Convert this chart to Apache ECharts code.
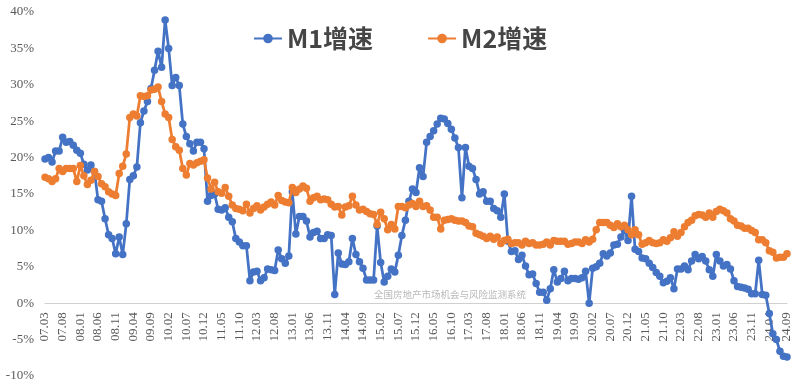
<!DOCTYPE html>
<html>
<head>
<meta charset="utf-8">
<script src="https://cdn.jsdelivr.net/npm/echarts@6/dist/echarts.min.js"></script>
<style>
html,body{margin:0;padding:0;background:#fff;}
#chart{width:807px;height:384px;}
</style>
</head>
<body>
<div id="chart"></div>
<script>
// Monthly series from 2007.03 to 2024.09
const startYear = 2007, startMonth = 3, monthCount = 211;
const categories = [];
for (let i = 0; i < monthCount; i++) {
  const m0 = startMonth - 1 + i;
  const y = startYear + Math.floor(m0 / 12);
  const m = (m0 % 12) + 1;
  categories.push(String(y % 100).padStart(2, '0') + '.' + String(m).padStart(2, '0'));
}

const m1Growth = [
  19.8, 20.0, 19.4, 20.9, 20.9, 22.8, 22.1, 22.2, 21.7, 21.0,
  20.6, 19.1, 18.3, 19.0, 18.1, 14.2, 14.0, 11.6, 9.4, 8.9, 6.8, 9.1,
  6.7, 10.9, 17.0, 17.5, 18.7, 24.8, 26.4, 27.7, 29.5, 32.0, 34.6, 32.4,
  38.9, 35.0, 29.9, 31.0, 29.9, 24.6, 22.9, 21.9, 20.9, 22.1, 22.1, 21.2,
  14.0, 14.8, 15.0, 12.9, 12.8, 13.1, 11.8, 11.2, 8.9, 8.4, 7.9, 7.9,
  3.1, 4.3, 4.4, 3.1, 3.5, 4.7, 4.6, 4.5, 7.3, 6.1, 5.5, 6.5,
  15.3, 9.5, 11.9, 11.9, 11.3, 9.1, 9.7, 9.9, 8.9, 8.9, 9.4, 9.3,
  1.2, 6.9, 5.4, 5.3, 5.7, 8.9, 6.7, 5.7, 4.8, 3.2, 3.2, 3.2,
  10.6, 5.6, 2.9, 3.7, 4.7, 4.3, 6.6, 9.3, 11.4, 14.0, 15.7, 15.2,
  18.6, 17.4, 22.1, 22.9, 23.7, 24.6, 25.4, 25.3, 24.7, 23.9, 22.7, 21.4,
  14.5, 21.4, 18.8, 18.5, 17.0, 15.0, 15.3, 14.0, 14.0, 13.0, 12.7, 11.8,
  15.0, 8.5, 7.1, 7.2, 6.0, 6.6, 5.1, 3.9, 4.0, 2.7, 1.5, 1.5,
  0.4, 2.0, 4.6, 2.9, 3.4, 4.4, 3.1, 3.4, 3.4, 3.3, 3.5, 4.4,
  0.0, 4.8, 5.0, 5.5, 6.8, 6.5, 6.9, 8.0, 8.1, 9.1, 10.0, 8.6,
  14.7, 7.4, 7.1, 6.2, 6.1, 5.5, 4.9, 4.2, 3.7, 2.8, 3.0, 3.5,
  2.0, 4.7, 4.7, 5.1, 4.6, 5.8, 6.7, 6.1, 6.4, 5.8, 4.6, 3.7,
  6.7, 5.8, 5.1, 5.3, 4.7, 3.1, 2.3, 2.2, 2.1, 1.9, 1.3, 1.3,
  5.9, 1.2, 1.1, -1.4, -4.2, -5.0, -6.6, -7.3, -7.4
];

const m2Growth = [
  17.3, 17.1, 16.7, 17.1, 18.5, 18.1, 18.5, 18.5, 18.5, 16.7,
  18.9, 17.5, 16.3, 16.9, 18.1, 17.4, 16.4, 16.0, 15.3, 15.0, 14.8, 17.8,
  18.8, 20.5, 25.5, 26.0, 25.7, 28.5, 28.4, 28.5, 29.3, 29.4, 29.7, 27.7,
  26.0, 25.5, 22.5, 21.5, 21.0, 18.5, 17.6, 19.2, 19.0, 19.3, 19.5, 19.7,
  17.2, 15.7, 16.6, 15.3, 15.1, 15.9, 14.7, 13.5, 13.0, 12.9, 12.7, 13.6,
  12.4, 13.0, 13.4, 12.8, 13.2, 13.6, 13.9, 13.5, 14.8, 14.1, 13.9, 13.8,
  15.9, 15.2, 15.7, 16.1, 15.8, 14.0, 14.5, 14.7, 14.2, 14.3, 14.2, 13.6,
  13.2, 13.3, 12.1, 13.2, 13.4, 14.7, 13.5, 12.8, 12.9, 12.6, 12.3, 12.2,
  10.8, 12.5, 11.6, 10.1, 10.8, 10.2, 13.3, 13.3, 13.1, 13.5, 13.7, 13.3,
  14.0, 13.3, 13.4, 12.8, 11.8, 11.8, 10.2, 11.4, 11.5, 11.6, 11.4, 11.3,
  11.3, 11.1, 10.6, 10.5, 9.6, 9.4, 9.2, 8.9, 9.2, 8.8, 9.1, 8.2,
  8.6, 8.8, 8.2, 8.3, 8.3, 8.0, 8.5, 8.2, 8.3, 8.0, 8.0, 8.1,
  8.4, 8.0, 8.6, 8.5, 8.5, 8.5, 8.1, 8.2, 8.4, 8.4, 8.2, 8.7,
  8.4, 8.8, 10.1, 11.1, 11.1, 11.1, 10.7, 10.4, 10.9, 10.5, 10.7, 10.1,
  9.4, 10.1, 9.4, 8.1, 8.3, 8.6, 8.3, 8.2, 8.3, 8.7, 8.5, 9.0,
  9.8, 9.2, 9.7, 10.5, 11.1, 11.4, 12.0, 12.2, 12.1, 11.8, 12.4, 11.8,
  12.6, 12.9, 12.7, 12.4, 11.6, 11.3, 10.7, 10.6, 10.3, 10.3, 10.0, 9.7,
  8.7, 8.7, 8.3, 7.2, 7.0, 6.2, 6.3, 6.3, 6.8
];

const seriesNames = ['M1增速', 'M2增速'];
const yTicks = { min: -10, max: 40, interval: 5 };
const watermark = '全国房地产市场机会与风险监测系统';

const chart = echarts.init(document.getElementById('chart'), null, { renderer: 'canvas' });
const serif = '"Liberation Serif", "DejaVu Serif", "Noto Sans CJK SC", serif';

const gridTop = 12, gridBottom = 8, chartH = 384;
const plotH = chartH - gridTop - gridBottom;
// distance from grid bottom (-10%) up to the 0% line
const zeroOffset = plotH * (0 - yTicks.min) / (yTicks.max - yTicks.min);

chart.setOption({
  animation: false,
  backgroundColor: '#ffffff',
  grid: { left: 45, right: 20, top: gridTop, bottom: gridBottom, containLabel: false, outerBoundsMode: 'none' },
  legend: {
    data: seriesNames,
    left: 248,
    top: 21,
    itemWidth: 28,
    itemHeight: 12,
    itemGap: 54,
    textStyle: {
      fontSize: 25,
      fontWeight: 'bold',
      color: '#454545',
      fontFamily: '"Noto Sans CJK SC", sans-serif'
    }
  },
  xAxis: {
    type: 'category',
    data: categories,
    boundaryGap: false,
    position: 'bottom',
    offset: -zeroOffset,
    axisLine: { onZero: false, lineStyle: { color: '#d0d0d0', width: 1 } },
    axisTick: { show: false },
    axisLabel: {
      interval: 4,
      rotate: 90,
      margin: 9,
      color: '#595959',
      fontSize: 13,
      fontFamily: serif
    },
    splitLine: { show: false }
  },
  yAxis: {
    type: 'value',
    min: yTicks.min,
    max: yTicks.max,
    interval: yTicks.interval,
    axisLine: { show: false },
    axisTick: { show: false },
    splitLine: { show: false },
    axisLabel: {
      formatter: v => v + '%',
      color: '#595959',
      fontSize: 13,
      margin: 11,
      fontFamily: serif
    }
  },
  series: [
    {
      name: seriesNames[0],
      type: 'line',
      data: m1Growth,
      symbol: 'circle',
      symbolSize: 7.5,
      showAllSymbol: true,
      color: '#4472C4',
      lineStyle: { width: 2.75, color: '#4472C4' },
      itemStyle: { color: '#4472C4' },
      z: 2
    },
    {
      name: seriesNames[1],
      type: 'line',
      data: m2Growth,
      symbol: 'circle',
      symbolSize: 7.5,
      showAllSymbol: true,
      color: '#ED7D31',
      lineStyle: { width: 2.75, color: '#ED7D31' },
      itemStyle: { color: '#ED7D31' },
      z: 3
    }
  ],
  graphic: [
    {
      type: 'text',
      left: 374,
      top: 290,
      style: { text: watermark, fontSize: 9.5, fill: '#b8b8b8', fontFamily: '"Noto Sans CJK SC", serif' },
      z: 10
    }
  ]
});
</script>
</body>
</html>
